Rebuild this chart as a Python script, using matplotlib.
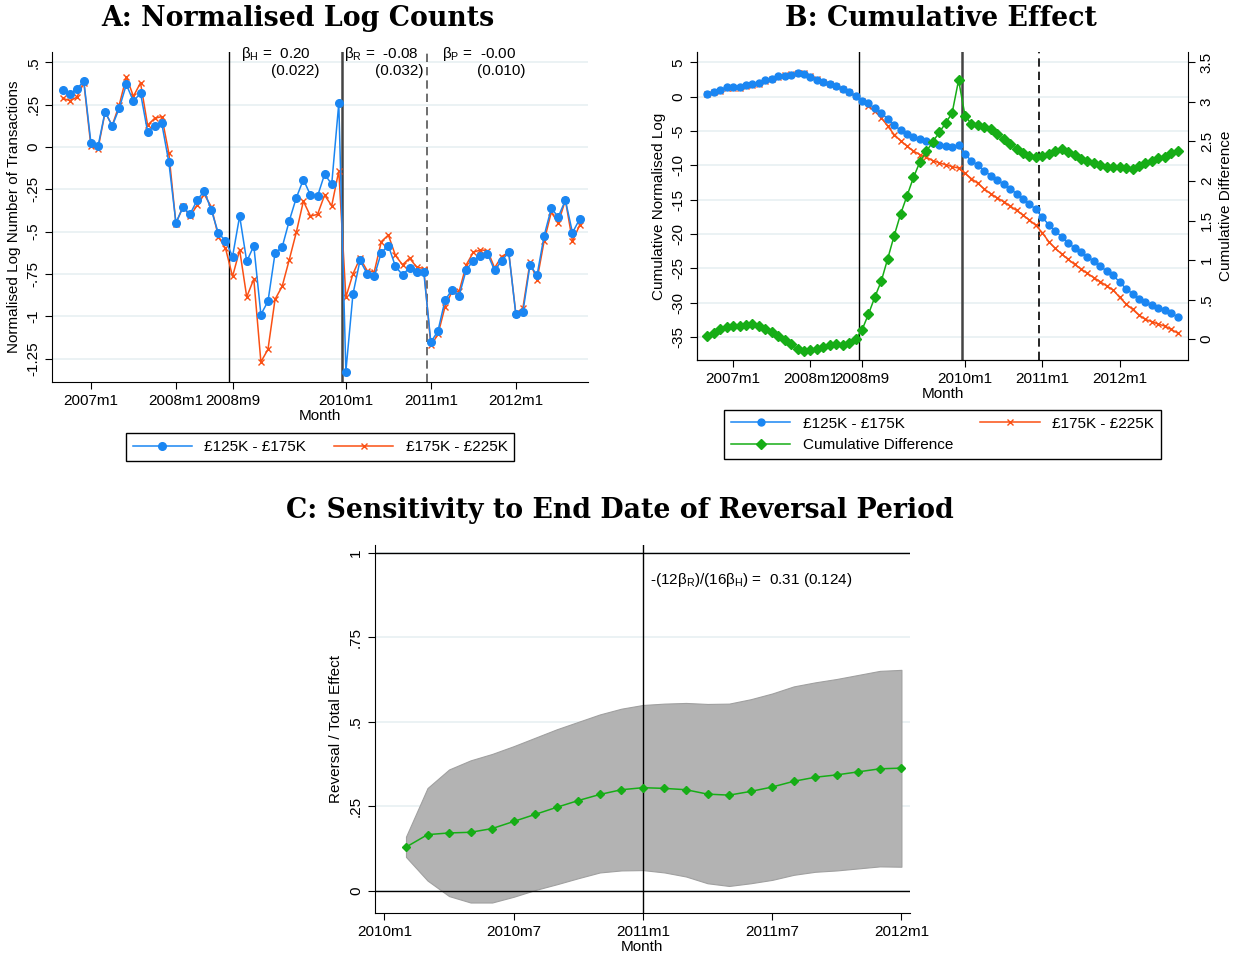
import matplotlib
matplotlib.use("Agg")
import matplotlib.pyplot as plt
import numpy as np

plt.rcParams['font.family'] = ['Liberation Sans', 'DejaVu Sans']
plt.rcParams['mathtext.fontset'] = 'custom'
plt.rcParams['mathtext.rm'] = 'Liberation Sans'
plt.rcParams['mathtext.it'] = 'Liberation Sans:italic'
plt.rcParams['axes.unicode_minus'] = False

# months counted from 2007m1 = 0 ; panels A and B run 2006m9 .. 2012m10
months_ab = np.arange(-4, 70)
month_ticks_ab = [0, 12, 20, 36, 48, 60]
month_labels_ab = ['2007m1', '2008m1', '2008m9', '2010m1', '2011m1', '2012m1']

# panel A: normalised log counts
log_low = [0.337, 0.314, 0.343, 0.39,
           0.024, 0.004, 0.21, 0.124, 0.23, 0.37, 0.27, 0.32, 0.09, 0.125,
           0.14, -0.09, -0.447, -0.357, -0.396, -0.314, -0.259, -0.373, -0.51, -0.553,
           -0.647, -0.408, -0.676, -0.584, -0.99, -0.912, -0.627, -0.592, -0.437, -0.30,
           -0.192, -0.284, -0.29, -0.16, -0.22, 0.259, -1.327, -0.869, -0.67, -0.749,
           -0.765, -0.624, -0.582, -0.706, -0.755, -0.714, -0.739, -0.739, -1.153, -1.088,
           -0.906, -0.843, -0.878, -0.725, -0.672, -0.643, -0.631, -0.729, -0.672, -0.622,
           -0.988, -0.975, -0.698, -0.757, -0.524, -0.363, -0.412, -0.314, -0.506, -0.427]
log_high = [0.288, 0.275, 0.294, 0.38,
            0.004, -0.01, 0.206, 0.127, 0.25, 0.415, 0.30, 0.38, 0.13, 0.17,
            0.18, -0.035, -0.453, -0.35, -0.41, -0.343, -0.28, -0.353, -0.53, -0.598,
            -0.765, -0.608, -0.886, -0.78, -1.27, -1.196, -0.90, -0.824, -0.667, -0.504,
            -0.32, -0.408, -0.398, -0.284, -0.347, -0.141, -0.888, -0.75, -0.657, -0.73,
            -0.739, -0.559, -0.52, -0.641, -0.696, -0.657, -0.71, -0.718, -1.173, -1.108,
            -0.945, -0.853, -0.853, -0.696, -0.622, -0.608, -0.612, -0.714, -0.647, -0.622,
            -0.984, -0.951, -0.682, -0.784, -0.555, -0.386, -0.447, -0.314, -0.557, -0.463]

# panel B: cumulative effect
cum_low = [0.39, 0.72, 1.02, 1.41,
           1.46, 1.44, 1.68, 1.83, 2.07, 2.43, 2.65, 2.97, 3.09, 3.21,
           3.40, 3.28, 2.87, 2.43, 2.09, 1.80, 1.55, 1.10, 0.63, 0.10,
           -0.55, -0.97, -1.70, -2.30, -3.28, -4.18, -4.86, -5.44, -5.88, -6.17,
           -6.41, -6.80, -7.05, -7.19, -7.34, -7.09, -8.41, -9.33, -10.01, -10.79,
           -11.52, -12.15, -12.73, -13.41, -14.14, -14.87, -15.65, -16.42, -17.59, -18.66,
           -19.58, -20.41, -21.28, -22.06, -22.69, -23.37, -23.96, -24.73, -25.41, -26.04,
           -27.02, -27.99, -28.72, -29.45, -29.93, -30.37, -30.76, -31.10, -31.58, -32.07]
cum_high = [0.35, 0.65, 0.89, 1.26,
            1.30, 1.27, 1.50, 1.64, 1.90, 2.30, 2.56, 2.93, 3.10, 3.27,
            3.50, 3.43, 3.0, 2.56, 2.19, 1.87, 1.62, 1.17, 0.67, 0.10,
            -0.69, -1.30, -2.15, -3.05, -4.28, -5.52, -6.41, -7.2, -7.92, -8.45,
            -8.82, -9.32, -9.64, -9.92, -10.18, -10.4, -11.18, -11.95, -12.64, -13.46,
            -14.15, -14.76, -15.3, -15.93, -16.58, -17.26, -17.98, -18.76, -19.83, -21.14,
            -22.11, -22.93, -23.71, -24.44, -25.12, -25.75, -26.38, -26.97, -27.6, -28.18,
            -29.25, -30.22, -31.0, -31.83, -32.46, -32.8, -33.14, -33.43, -33.92, -34.45]
cum_diff = [0.045, 0.083, 0.133, 0.15,
            0.163, 0.171, 0.184, 0.188, 0.167, 0.125, 0.087, 0.04, -0.01, -0.061,
            -0.124, -0.145, -0.136, -0.128, -0.103, -0.069, -0.061, -0.073, -0.044, 0.003,
            0.116, 0.314, 0.533, 0.735, 1.018, 1.308, 1.582, 1.814, 2.045, 2.243,
            2.374, 2.496, 2.614, 2.732, 2.862, 3.275, 2.824, 2.719, 2.702, 2.677,
            2.652, 2.593, 2.529, 2.466, 2.407, 2.352, 2.315, 2.298, 2.315, 2.336,
            2.382, 2.399, 2.361, 2.327, 2.277, 2.247, 2.222, 2.197, 2.18, 2.18,
            2.18, 2.167, 2.15, 2.184, 2.222, 2.251, 2.285, 2.298, 2.348, 2.382]

# panel C: months counted from 2010m1 = 0
months_c = np.arange(1, 25)
month_ticks_c = [0, 6, 12, 18, 24]
month_labels_c = ['2010m1', '2010m7', '2011m1', '2011m7', '2012m1']
ratio = [0.129, 0.166, 0.171, 0.173, 0.184, 0.205, 0.226, 0.247, 0.267, 0.285,
         0.299, 0.305, 0.303, 0.299, 0.286, 0.283, 0.294, 0.307, 0.324, 0.336,
         0.343, 0.352, 0.361, 0.363]
ratio_hi = [0.16, 0.304, 0.359, 0.386, 0.405, 0.428, 0.453, 0.478, 0.500, 0.522,
            0.539, 0.55, 0.554, 0.556, 0.553, 0.554, 0.567, 0.584, 0.605, 0.617,
            0.627, 0.639, 0.651, 0.654]
ratio_lo = [0.10, 0.03, -0.016, -0.035, -0.035, -0.018, 0.002, 0.019, 0.037, 0.054,
            0.060, 0.061, 0.054, 0.042, 0.022, 0.014, 0.022, 0.032, 0.047, 0.056,
            0.060, 0.066, 0.072, 0.071]

blue = '#1a86f2'
orange = '#fa5014'
green = '#16ad16'
grid_c = '#e8f0f2'
fs = 11
title_kw = dict(fontfamily='DejaVu Serif', fontweight='bold', fontsize=19.3,
                ha='center', va='center')

fig = plt.figure(figsize=(12.38, 9.56), dpi=100)


def style_axis(ax):
    ax.spines['top'].set_visible(False)
    ax.spines['right'].set_visible(False)
    ax.tick_params(axis='both', labelsize=fs, length=5, width=0.8)
    ax.tick_params(axis='y', labelrotation=90)
    for lab in ax.get_yticklabels():
        lab.set_va('center')
    ax.grid(axis='y', color=grid_c, lw=1.2)
    ax.set_axisbelow(True)


# ---------- A ----------
axA = fig.add_axes([0.042, 0.6004, 0.433, 0.3452])
axA.plot(months_ab, log_low, '-o', color=blue, lw=1.1, ms=5.5, zorder=4,
         label='£125K - £175K')
axA.plot(months_ab, log_high, '-x', color=orange, lw=1.1, ms=4, mew=1, zorder=3,
         label='£175K - £225K')
axA.axvline(19.5, color='black', lw=1)
axA.axvline(35.5, color='#444444', lw=1.8)
axA.axvline(47.5, color='#555555', lw=1.2, ls=(0, (5, 3)))
axA.set_xlim(-5.5, 70.2)
axA.set_ylim(-1.389, 0.562)
axA.set_xticks(month_ticks_ab, month_labels_ab)
axA.set_yticks([0.5, 0.25, 0, -0.25, -0.5, -0.75, -1, -1.25],
               ['.5', '.25', '0', '-.25', '-.5', '-.75', '-1', '-1.25'])
style_axis(axA)
axA.set_ylabel('Normalised Log Number of Transactions', fontsize=fs, labelpad=4)
axA.set_xlabel('Month', fontsize=fs, labelpad=1)
axA.text(21.2, 0.55, r'β$_\mathrm{H}$ =  0.20', fontsize=fs, va='center')
axA.text(32.3, 0.45, '(0.022)', fontsize=fs, va='center', ha='right')
axA.text(35.7, 0.55, r'β$_\mathrm{R}$ =  -0.08', fontsize=fs, va='center')
axA.text(47.0, 0.45, '(0.032)', fontsize=fs, va='center', ha='right')
axA.text(49.6, 0.55, r'β$_\mathrm{P}$ =  -0.00', fontsize=fs, va='center')
axA.text(61.3, 0.45, '(0.010)', fontsize=fs, va='center', ha='right')
fig.text(0.2407, 0.981, 'A: Normalised Log Counts', **title_kw)
hA, lA = axA.get_legend_handles_labels()
fig.legend(hA, lA, loc='center', bbox_to_anchor=(0.2585, 0.5324), ncol=2,
           fontsize=fs, frameon=True, fancybox=False, edgecolor='black',
           framealpha=1, handlelength=3.9, columnspacing=1.8, borderpad=0.45)

# ---------- B ----------
axB = fig.add_axes([0.563, 0.6234, 0.3966, 0.3222])
axB2 = axB.twinx()
l1, = axB.plot(months_ab, cum_low, '-o', color=blue, lw=1.1, ms=5, zorder=4,
               label='£125K - £175K')
l2, = axB.plot(months_ab, cum_high, '-x', color=orange, lw=1.1, ms=4, mew=1,
               zorder=3, label='£175K - £225K')
l3, = axB2.plot(months_ab, cum_diff, '-D', color=green, lw=1.1, ms=4.7,
                label='Cumulative Difference')
axB.axvline(19.5, color='black', lw=1)
axB.axvline(35.5, color='#444444', lw=1.8)
axB.axvline(47.5, color='black', lw=1.2, ls=(0, (5, 3)))
axB.set_xlim(-5.6, 70.6)
axB.set_ylim(-38.38, 6.52)
axB2.set_ylim(-0.263, 3.63)
axB.set_xticks(month_ticks_ab, month_labels_ab)
axB.set_yticks(list(range(5, -36, -5)), [str(v) for v in range(5, -36, -5)])
style_axis(axB)
axB2.spines['top'].set_visible(False)
axB2.set_yticks([0, 0.5, 1, 1.5, 2, 2.5, 3, 3.5],
                ['0', '.5', '1', '1.5', '2', '2.5', '3', '3.5'])
axB2.tick_params(axis='y', labelsize=fs, length=5, width=0.8, labelrotation=90)
for lab in axB2.get_yticklabels():
    lab.set_va('center')
axB.set_ylabel('Cumulative Normalised Log', fontsize=fs, labelpad=4)
axB2.set_ylabel('Cumulative Difference', fontsize=fs, labelpad=4)
axB.set_xlabel('Month', fontsize=fs, labelpad=1)
fig.text(0.7601, 0.981, 'B: Cumulative Effect', **title_kw)
fig.legend([l1, l3, l2], [l1.get_label(), l3.get_label(), l2.get_label()],
           loc='center', bbox_to_anchor=(0.7613, 0.5455), ncol=2, fontsize=fs,
           frameon=True, fancybox=False, edgecolor='black', framealpha=1,
           handlelength=3.9, columnspacing=1.8, borderpad=0.45)

# ---------- C ----------
axC = fig.add_axes([0.3027, 0.045, 0.4324, 0.385])
axC.fill_between(months_c, ratio_lo, ratio_hi, color='#b3b3b3', lw=0.8,
                 edgecolor='#a0a0a0', zorder=2)
axC.plot(months_c, ratio, '-D', color=green, lw=1.1, ms=4, zorder=4)
axC.axvline(12, color='black', lw=1, zorder=3)
axC.axhline(0, color='black', lw=1, zorder=3)
axC.axhline(1, color='black', lw=1, zorder=3)
axC.set_xlim(-0.45, 24.4)
axC.set_ylim(-0.066, 1.024)
axC.set_xticks(month_ticks_c, month_labels_c)
axC.set_yticks([0, 0.25, 0.5, 0.75, 1], ['0', '.25', '.5', '.75', '1'])
style_axis(axC)
axC.set_ylabel('Reversal / Total Effect', fontsize=fs, labelpad=4)
axC.set_xlabel('Month', fontsize=fs, labelpad=1)
axC.text(12.34, 0.921, r'-(12β$_\mathrm{R}$)/(16β$_\mathrm{H}$) =  0.31 (0.124)',
         fontsize=fs, va='center')
fig.text(0.5008, 0.4665, 'C: Sensitivity to End Date of Reversal Period', **title_kw)

fig.savefig('out.png', dpi=100)
